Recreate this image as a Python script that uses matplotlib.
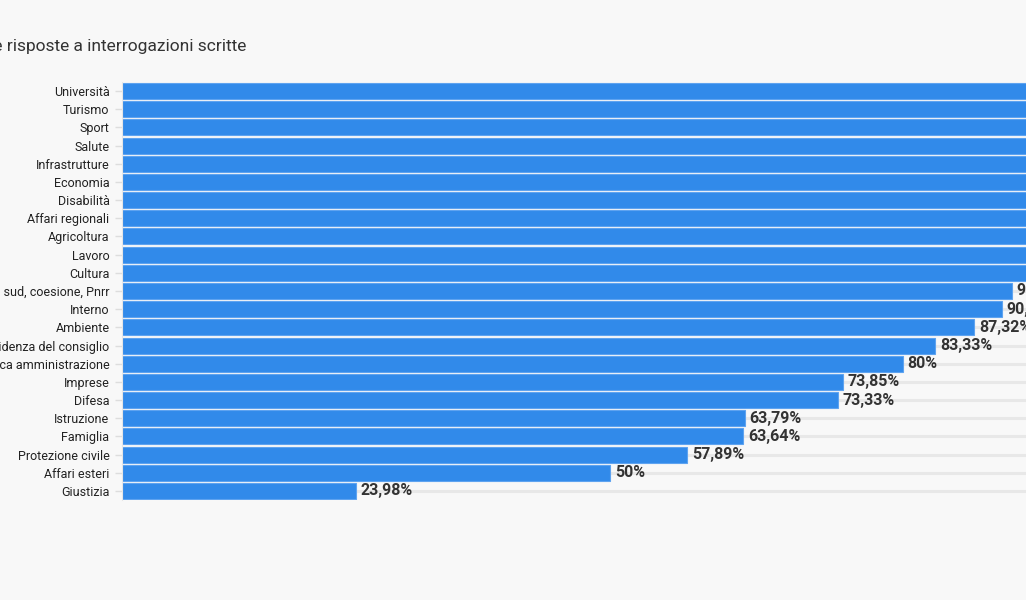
import matplotlib
matplotlib.use("Agg")
import matplotlib.pyplot as plt
import numpy as np

plt.rcParams['font.family'] = ['Roboto', 'DejaVu Sans']

# percentuale di risposte per ministero
categories = [
    "Università", "Turismo", "Sport", "Salute", "Infrastrutture", "Economia",
    "Disabilità", "Affari regionali", "Agricoltura", "Lavoro", "Cultura",
    "Affari europei, sud, coesione, Pnrr", "Interno", "Ambiente",
    "Presidenza del consiglio", "Pubblica amministrazione", "Imprese", "Difesa",
    "Istruzione", "Famiglia", "Protezione civile", "Affari esteri", "Giustizia",
]
values = [100, 100, 100, 100, 100, 100, 100, 100, 100, 100, 100,
          91.18, 90.12, 87.32, 83.33, 80, 73.85, 73.33,
          63.79, 63.64, 57.89, 50, 23.98]
title = "Percentuale delle risposte a interrogazioni scritte"

W, H = 1026, 600
fig = plt.figure(figsize=(W / 100, H / 100), dpi=100)
fig.patch.set_facecolor("#f8f8f8")

# the chart is cropped: axes run off the right edge (100% sits at ~1098 px)
x0, x100, ytop, ybot = 122, 1098, 82, 500
ax = fig.add_axes([x0 / W, 1 - ybot / H, (x100 - x0) / W, (ybot - ytop) / H])
ax.set_facecolor("#f8f8f8")

y = np.arange(len(categories))
ax.barh(y, values, height=0.88, color="#318aea", edgecolor="#5ea3f0",
        linewidth=0.8, zorder=2)

ax.set_xlim(0, 100)
visible_max = 100 * (W - x0) / (x100 - x0)
for yi, v in zip(y, values):
    if v + 0.5 > visible_max:
        continue  # label falls outside the cropped picture
    txt = f"{v:.2f}".rstrip("0").rstrip(".").replace(".", ",") + "%"
    ax.text(v + 0.5, yi, txt, va="center", ha="left", fontsize=11.5,
            fontweight="bold", color="#333333", zorder=3)

ax.set_ylim(len(categories) - 0.5, -0.5)
ax.set_yticks(y)
ax.set_yticklabels(categories, fontsize=9, color="#222222")
ax.tick_params(axis="y", length=5, width=1, color="#dddddd", pad=4)
ax.set_xticks([])
ax.grid(axis="y", color="#e8e8e8", linewidth=2.2, zorder=0)
for s in ["top", "right", "bottom"]:
    ax.spines[s].set_visible(False)
ax.spines["left"].set_color("#e6e6e6")

fig.text(246 / W, 1 - 47 / H, title, ha="right", va="center",
         fontsize=12.5, color="#333333")

fig.savefig("out.png", dpi=100, facecolor=fig.get_facecolor())
